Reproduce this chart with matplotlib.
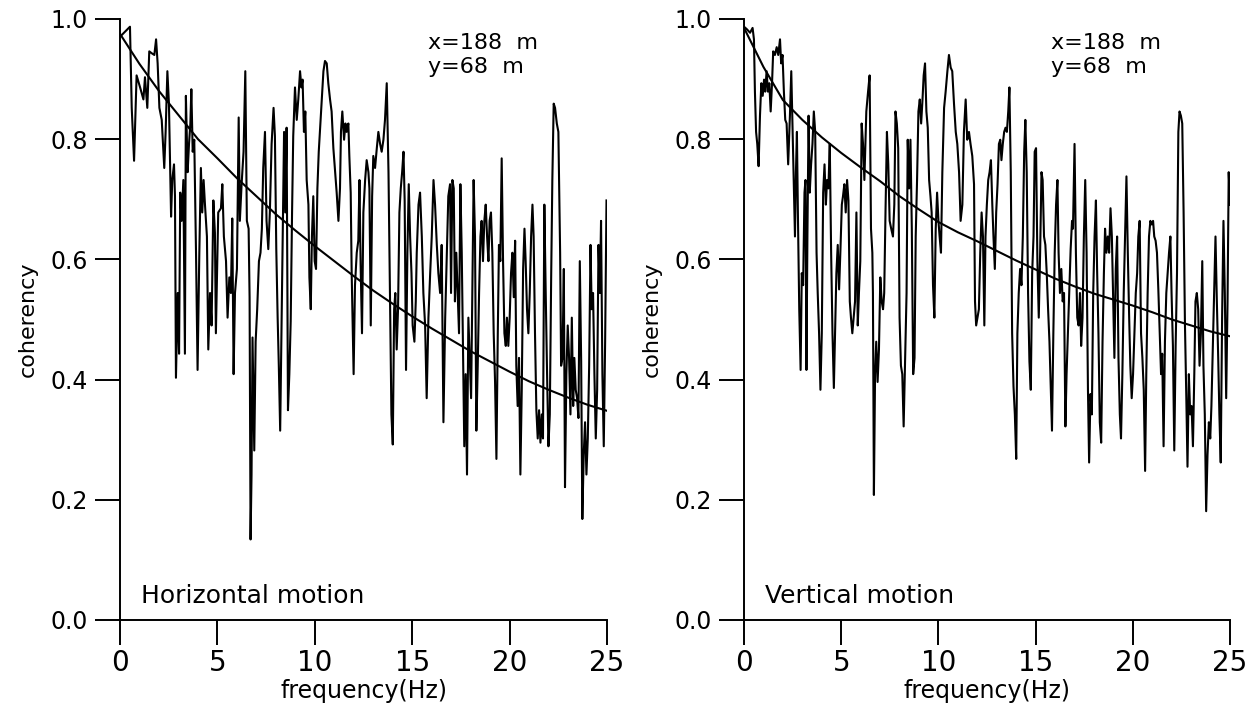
import matplotlib
matplotlib.use("Agg")
import matplotlib.pyplot as plt

# coherency vs frequency, two stations (horizontal / vertical motion)

h_freq = [0.05, 0.51, 0.60, 0.72, 0.85, 1.03, 1.20, 1.28, 1.40, 1.50, 1.62, 1.76, 1.85, 1.93, 2.02, 2.14, 2.27, 2.34, 2.43, 2.51,
          2.62, 2.68, 2.77, 2.82, 2.87, 2.96, 3.03, 3.09, 3.16, 3.25, 3.30, 3.33, 3.38, 3.47, 3.54, 3.61, 3.66, 3.73, 3.81, 3.90,
          3.98, 4.07, 4.15, 4.22, 4.29, 4.36, 4.46, 4.53, 4.62, 4.70, 4.79, 4.87, 4.92, 5.04, 5.18, 5.25, 5.33, 5.44, 5.52, 5.61,
          5.69, 5.76, 5.83, 5.90, 6.00, 6.09, 6.15, 6.24, 6.34, 6.43, 6.51, 6.60, 6.65, 6.70, 6.75, 6.80, 6.89, 6.96, 7.04, 7.13,
          7.21, 7.28, 7.35, 7.44, 7.52, 7.61, 7.69, 7.78, 7.88, 7.95, 8.02, 8.09, 8.15, 8.22,
          8.42, 8.48, 8.55, 8.62, 8.69, 8.76, 8.83, 8.89, 8.98, 9.07, 9.15, 9.24, 9.31, 9.37, 9.44, 9.51, 9.58, 9.67, 9.72, 9.79,
          9.85, 9.92, 9.99, 10.06, 10.13, 10.20, 10.26, 10.35, 10.44, 10.52, 10.61, 10.69, 10.78, 10.86, 10.95, 11.04, 11.12, 11.21, 11.29, 11.34,
          11.41, 11.50, 11.57, 11.63, 11.72, 11.77, 11.84, 11.89, 11.94, 11.99, 12.06, 12.15, 12.23, 12.29, 12.35, 12.42, 12.49, 12.58, 12.66, 12.75,
          12.80, 12.87, 12.94, 13.00, 13.09, 13.18, 13.26, 13.35, 13.43, 13.52, 13.60, 13.69, 13.78, 13.86, 13.93, 14.00, 14.07, 14.13, 14.20, 14.27,
          14.34, 14.41, 14.48, 14.55, 14.61, 14.68, 14.75, 14.82, 14.89, 14.96, 15.02, 15.11, 15.18, 15.23, 15.32, 15.40, 15.49, 15.57, 15.66, 15.74,
          15.83, 15.92, 16.00, 16.09, 16.17, 16.26, 16.34, 16.43, 16.51, 16.60, 16.69,
          16.85, 16.94, 16.99, 17.06, 17.13, 17.19, 17.26, 17.33, 17.40, 17.47, 17.54, 17.60, 17.67, 17.74, 17.81, 17.88, 17.95, 18.02, 18.08, 18.15,
          18.22, 18.29, 18.36, 18.43, 18.50, 18.56, 18.63, 18.70, 18.77, 18.84, 18.91, 18.97, 19.04, 19.11, 19.18, 19.25, 19.32, 19.39, 19.45, 19.52,
          19.59, 19.66, 19.73, 19.80, 19.86, 19.93, 20.00, 20.07, 20.14, 20.21, 20.28, 20.34, 20.41, 20.48, 20.55, 20.62, 20.69, 20.76, 20.82, 20.89,
          20.96, 21.03, 21.10, 21.17, 21.23, 21.30, 21.37, 21.44, 21.51, 21.58, 21.65, 21.71, 21.78, 21.85, 21.92, 21.99, 22.06, 22.13, 22.19, 22.26,
          22.33, 22.42, 22.50, 22.59, 22.64, 22.71, 22.78, 22.84, 22.91, 22.98, 23.05, 23.12, 23.19, 23.26, 23.32, 23.39, 23.46, 23.53, 23.60, 23.67,
          23.73, 23.80, 23.87, 23.94, 24.01, 24.08, 24.15, 24.21, 24.28, 24.35, 24.42, 24.49, 24.56, 24.63, 24.69, 24.76, 24.83, 24.90, 24.97]
h_coh = [0.972, 0.987, 0.852, 0.764, 0.906, 0.886, 0.866, 0.903, 0.852, 0.946, 0.943, 0.940, 0.966, 0.926, 0.852, 0.832, 0.752, 0.812, 0.913, 0.859,
         0.671, 0.732, 0.758, 0.705, 0.403, 0.544, 0.443, 0.711, 0.664, 0.732, 0.544, 0.443, 0.872, 0.745, 0.792, 0.826, 0.883, 0.779, 0.799, 0.611,
         0.416, 0.611, 0.752, 0.678, 0.732, 0.691, 0.638, 0.450, 0.544, 0.490, 0.698, 0.644, 0.477, 0.678, 0.685, 0.725, 0.638, 0.597, 0.503, 0.570,
         0.544, 0.668, 0.409, 0.544, 0.584, 0.836, 0.664, 0.725, 0.779, 0.913, 0.664, 0.651, 0.537, 0.134, 0.242, 0.470, 0.282, 0.463, 0.517, 0.597,
         0.611, 0.651, 0.752, 0.812, 0.664, 0.617, 0.678, 0.792, 0.852, 0.805, 0.617, 0.503, 0.423, 0.315,
         0.812, 0.678, 0.819, 0.349, 0.409, 0.497, 0.678, 0.805, 0.886, 0.832, 0.866, 0.913, 0.886, 0.899, 0.812, 0.846, 0.732, 0.691, 0.570, 0.517,
         0.638, 0.705, 0.597, 0.584, 0.718, 0.779, 0.812, 0.859, 0.913, 0.930, 0.926, 0.893, 0.866, 0.846, 0.785, 0.745, 0.711, 0.664, 0.718, 0.812,
         0.846, 0.799, 0.826, 0.812, 0.826, 0.772, 0.711, 0.577, 0.497, 0.409, 0.557, 0.611, 0.631, 0.732, 0.591, 0.477, 0.678, 0.732, 0.765, 0.745,
         0.718, 0.490, 0.705, 0.772, 0.752, 0.785, 0.812, 0.792, 0.779, 0.799, 0.832, 0.893, 0.745, 0.523, 0.342, 0.292, 0.517, 0.544, 0.450, 0.517,
         0.678, 0.718, 0.745, 0.779, 0.698, 0.416, 0.611, 0.725, 0.638, 0.577, 0.490, 0.463, 0.530, 0.611, 0.691, 0.711, 0.638, 0.544, 0.490, 0.369,
         0.503, 0.577, 0.638, 0.732, 0.691, 0.624, 0.577, 0.544, 0.624, 0.329, 0.503,
         0.705, 0.725, 0.544, 0.732, 0.718, 0.530, 0.611, 0.544, 0.477, 0.725, 0.611, 0.463, 0.289, 0.409, 0.242, 0.503, 0.436, 0.369, 0.544, 0.732,
         0.638, 0.315, 0.423, 0.544, 0.638, 0.664, 0.597, 0.664, 0.691, 0.638, 0.597, 0.664, 0.678, 0.611, 0.477, 0.396, 0.268, 0.477, 0.624, 0.597,
         0.768, 0.597, 0.477, 0.456, 0.503, 0.456, 0.503, 0.577, 0.611, 0.537, 0.631, 0.423, 0.356, 0.436, 0.242, 0.383, 0.584, 0.651, 0.597, 0.517,
         0.477, 0.544, 0.638, 0.691, 0.638, 0.477, 0.349, 0.302, 0.349, 0.295, 0.342, 0.302, 0.691, 0.544, 0.409, 0.289, 0.342, 0.570, 0.732, 0.859,
         0.852, 0.826, 0.812, 0.611, 0.423, 0.436, 0.584, 0.221, 0.409, 0.490, 0.436, 0.342, 0.503, 0.356, 0.436, 0.383, 0.369, 0.336, 0.597, 0.430,
         0.168, 0.275, 0.329, 0.242, 0.302, 0.423, 0.624, 0.517, 0.544, 0.409, 0.302, 0.383, 0.624, 0.544, 0.664, 0.409, 0.289, 0.463, 0.698]

v_freq = [0.00, 0.14, 0.31, 0.44, 0.51, 0.56, 0.62, 0.68, 0.75, 0.82, 0.89, 0.96, 1.03, 1.09, 1.16, 1.23, 1.30, 1.37, 1.44, 1.50,
          1.59, 1.68, 1.76, 1.85, 1.91, 1.98, 2.05, 2.12, 2.19, 2.27, 2.36, 2.43, 2.50, 2.56, 2.62, 2.67, 2.72, 2.77, 2.84, 2.91,
          2.97, 3.04, 3.11, 3.16, 3.21, 3.26, 3.32, 3.38, 3.45, 3.52, 3.59, 3.66, 3.73, 3.79, 3.86, 3.93, 4.00, 4.07, 4.14, 4.21,
          4.27, 4.34, 4.41, 4.48, 4.55, 4.62, 4.68, 4.75, 4.82, 4.89, 4.96, 5.03, 5.09, 5.16, 5.23, 5.30, 5.37, 5.44, 5.50, 5.57,
          5.64, 5.71, 5.78, 5.85, 5.91, 5.98, 6.05, 6.12, 6.19, 6.29, 6.38, 6.46, 6.53, 6.60, 6.63, 6.68, 6.74, 6.80, 6.87, 6.94,
          7.01, 7.08, 7.15, 7.21, 7.28, 7.35, 7.42, 7.49, 7.57, 7.66, 7.73, 7.79, 7.86, 7.93, 8.00, 8.07, 8.14, 8.21,
          8.36, 8.42, 8.49, 8.56, 8.63, 8.70, 8.77, 8.83, 8.90, 8.97, 9.04, 9.11, 9.18, 9.24, 9.31, 9.38, 9.45, 9.52, 9.59, 9.65,
          9.72, 9.79, 9.86, 9.93, 10.00, 10.06, 10.13, 10.20, 10.29, 10.37, 10.46, 10.54, 10.63, 10.71, 10.80, 10.89, 10.97, 11.06, 11.14, 11.23,
          11.31, 11.40, 11.48, 11.57, 11.65, 11.74, 11.83, 11.88, 11.94, 12.01, 12.08, 12.15, 12.22, 12.29, 12.36, 12.42, 12.49, 12.56, 12.63, 12.70,
          12.77, 12.83, 12.90, 12.97, 13.04, 13.11, 13.18, 13.24, 13.31, 13.38, 13.45, 13.52, 13.59, 13.65, 13.72, 13.79, 13.86, 13.93, 14.00, 14.06,
          14.13, 14.20, 14.27, 14.34, 14.41, 14.47, 14.54, 14.61, 14.68, 14.75, 14.82, 14.89, 14.95, 15.02, 15.09, 15.16, 15.23, 15.30, 15.36, 15.43,
          15.50, 15.57, 15.64, 15.71, 15.77, 15.84, 15.91, 15.98, 16.05, 16.12, 16.18, 16.25, 16.32, 16.39, 16.46, 16.53, 16.59,
          16.73, 16.80, 16.87, 16.92, 17.00, 17.07, 17.14, 17.21, 17.28, 17.34, 17.41, 17.48, 17.55, 17.62, 17.69, 17.75, 17.82, 17.89, 17.96, 18.03,
          18.10, 18.16, 18.23, 18.30, 18.37, 18.44, 18.51, 18.57, 18.64, 18.71, 18.78, 18.85, 18.92, 18.98, 19.05, 19.12, 19.19, 19.26, 19.33, 19.39,
          19.46, 19.53, 19.60, 19.67, 19.74, 19.81, 19.87, 19.94, 20.01, 20.08, 20.15, 20.22, 20.28, 20.35, 20.42, 20.49, 20.56, 20.63, 20.69, 20.76,
          20.83, 20.90, 20.97, 21.04, 21.10, 21.17, 21.24, 21.31, 21.38, 21.45, 21.51, 21.58, 21.65, 21.72, 21.79, 21.86, 21.93, 21.99, 22.06, 22.13,
          22.20, 22.27, 22.34, 22.40, 22.47, 22.54, 22.61, 22.68, 22.75, 22.81, 22.88, 22.95, 23.02, 23.09, 23.16, 23.22, 23.29, 23.36, 23.43, 23.50,
          23.57, 23.63, 23.70, 23.77, 23.84, 23.91, 23.98, 24.04, 24.11, 24.18, 24.25, 24.32, 24.39, 24.45, 24.52, 24.59, 24.66, 24.73, 24.80, 24.87,
          24.93, 25.00]
v_coh = [0.987, 0.983, 0.977, 0.985, 0.966, 0.879, 0.812, 0.792, 0.755, 0.839, 0.893, 0.872, 0.899, 0.879, 0.913, 0.879, 0.893, 0.846, 0.893, 0.946,
         0.940, 0.953, 0.940, 0.966, 0.926, 0.940, 0.879, 0.832, 0.826, 0.758, 0.839, 0.913, 0.812, 0.718, 0.638, 0.745, 0.812, 0.678, 0.517, 0.416,
         0.577, 0.557, 0.711, 0.732, 0.416, 0.638, 0.839, 0.711, 0.758, 0.792, 0.846, 0.812, 0.611, 0.544, 0.477, 0.383, 0.477, 0.711, 0.758, 0.691,
         0.732, 0.718, 0.792, 0.611, 0.477, 0.386, 0.477, 0.577, 0.624, 0.550, 0.617, 0.691, 0.705, 0.725, 0.678, 0.732, 0.698, 0.530, 0.503, 0.477,
         0.503, 0.530, 0.678, 0.490, 0.544, 0.597, 0.826, 0.792, 0.732, 0.846, 0.879, 0.906, 0.651, 0.611, 0.544, 0.208, 0.409, 0.463, 0.396, 0.450,
         0.570, 0.530, 0.517, 0.544, 0.685, 0.812, 0.758, 0.664, 0.651, 0.638, 0.691, 0.846, 0.826, 0.785, 0.503, 0.423, 0.409, 0.322,
         0.544, 0.799, 0.718, 0.799, 0.651, 0.409, 0.436, 0.638, 0.732, 0.846, 0.866, 0.826, 0.866, 0.906, 0.926, 0.846, 0.819, 0.732, 0.705, 0.678,
         0.557, 0.503, 0.651, 0.711, 0.664, 0.638, 0.611, 0.745, 0.852, 0.879, 0.913, 0.940, 0.919, 0.913, 0.859, 0.812, 0.792, 0.745, 0.664, 0.691,
         0.812, 0.866, 0.799, 0.812, 0.792, 0.772, 0.725, 0.530, 0.490, 0.503, 0.517, 0.611, 0.678, 0.638, 0.490, 0.638, 0.691, 0.732, 0.745, 0.765,
         0.691, 0.638, 0.584, 0.678, 0.725, 0.792, 0.799, 0.765, 0.792, 0.812, 0.819, 0.812, 0.846, 0.886, 0.745, 0.477, 0.389, 0.342, 0.268, 0.477,
         0.544, 0.584, 0.557, 0.638, 0.779, 0.832, 0.745, 0.544, 0.430, 0.383, 0.577, 0.638, 0.779, 0.785, 0.597, 0.503, 0.611, 0.745, 0.732, 0.638,
         0.624, 0.577, 0.517, 0.463, 0.396, 0.315, 0.477, 0.611, 0.691, 0.732, 0.611, 0.544, 0.584, 0.530, 0.544, 0.322, 0.409,
         0.544, 0.617, 0.664, 0.651, 0.792, 0.611, 0.503, 0.490, 0.544, 0.456, 0.503, 0.638, 0.732, 0.611, 0.383, 0.262, 0.376, 0.342, 0.544, 0.638,
         0.698, 0.584, 0.477, 0.329, 0.295, 0.463, 0.577, 0.651, 0.611, 0.638, 0.611, 0.685, 0.638, 0.544, 0.436, 0.584, 0.638, 0.436, 0.342, 0.302,
         0.409, 0.544, 0.638, 0.738, 0.611, 0.503, 0.423, 0.369, 0.409, 0.477, 0.544, 0.577, 0.638, 0.664, 0.477, 0.436, 0.383, 0.248, 0.409, 0.544,
         0.638, 0.664, 0.658, 0.664, 0.638, 0.631, 0.611, 0.550, 0.477, 0.409, 0.443, 0.289, 0.463, 0.544, 0.577, 0.611, 0.638, 0.544, 0.456, 0.282,
         0.456, 0.577, 0.812, 0.846, 0.839, 0.826, 0.678, 0.490, 0.369, 0.255, 0.409, 0.342, 0.356, 0.289, 0.409, 0.530, 0.544, 0.517, 0.423, 0.477,
         0.597, 0.423, 0.342, 0.181, 0.275, 0.329, 0.302, 0.356, 0.450, 0.544, 0.638, 0.530, 0.436, 0.342, 0.262, 0.503, 0.664, 0.544, 0.369, 0.530,
         0.745, 0.691]

# fitted coherency curves, read at whole Hz
fit_freq = [0, 1, 2, 3, 4, 5, 6, 7, 8, 9, 10, 11, 12, 13, 14, 15, 16, 17, 18, 19, 20, 21, 22, 23, 24, 25]
h_fit = [0.975, 0.925, 0.88, 0.84, 0.80, 0.768, 0.735, 0.705, 0.675, 0.648, 0.622, 0.597, 0.572,
         0.548, 0.526, 0.505, 0.485, 0.466, 0.447, 0.43, 0.413, 0.397, 0.383, 0.37, 0.358, 0.348]
v_fit = [0.985, 0.92, 0.865, 0.832, 0.803, 0.777, 0.753, 0.73, 0.705, 0.683, 0.662, 0.645, 0.63,
         0.614, 0.598, 0.583, 0.568, 0.555, 0.543, 0.533, 0.523, 0.512, 0.50, 0.49, 0.48, 0.472]

station = ["x=188  m", "y=68  m"]
titles = ["Horizontal motion", "Vertical motion"]

plt.rcParams['font.family'] = ['DejaVu Sans']

fig = plt.figure(figsize=(12.53, 7.08), dpi=100)
ax1 = fig.add_axes([0.0958, 0.1243, 0.3887, 0.849])
ax2 = fig.add_axes([0.5938, 0.1243, 0.3879, 0.849])

panels = [(ax1, h_freq, h_coh, h_fit, titles[0]), (ax2, v_freq, v_coh, v_fit, titles[1])]
for ax, f, c, fit, title in panels:
    ax.plot(f, c, color='black', lw=1.5)
    ax.plot(fit_freq, fit, color='black', lw=1.5)
    ax.set_xlim(0, 25)
    ax.set_ylim(0, 1)
    ax.set_xticks([0, 5, 10, 15, 20, 25])
    ax.set_yticks([0.0, 0.2, 0.4, 0.6, 0.8, 1.0])
    ax.set_yticklabels(['0.0', '0.2', '0.4', '0.6', '0.8', '1.0'])
    ax.spines['top'].set_visible(False)
    ax.spines['right'].set_visible(False)
    for s in ['left', 'bottom']:
        ax.spines[s].set_linewidth(1.4)
    ax.tick_params(direction='out', length=18, width=1.4)
    ax.tick_params(axis='x', labelsize=20, pad=3)
    ax.tick_params(axis='y', labelsize=17, pad=5)
    ax.set_xlabel('frequency(Hz)', fontsize=17, labelpad=1)
    ax.set_ylabel('coherency', fontsize=16, labelpad=9)
    ax.text(1.1, 0.04, title, fontsize=18, va='center')
    ax.text(15.8, 0.96, station[0], fontsize=16, va='center')
    ax.text(15.8, 0.92, station[1], fontsize=16, va='center')

fig.savefig('out.png', dpi=100)
